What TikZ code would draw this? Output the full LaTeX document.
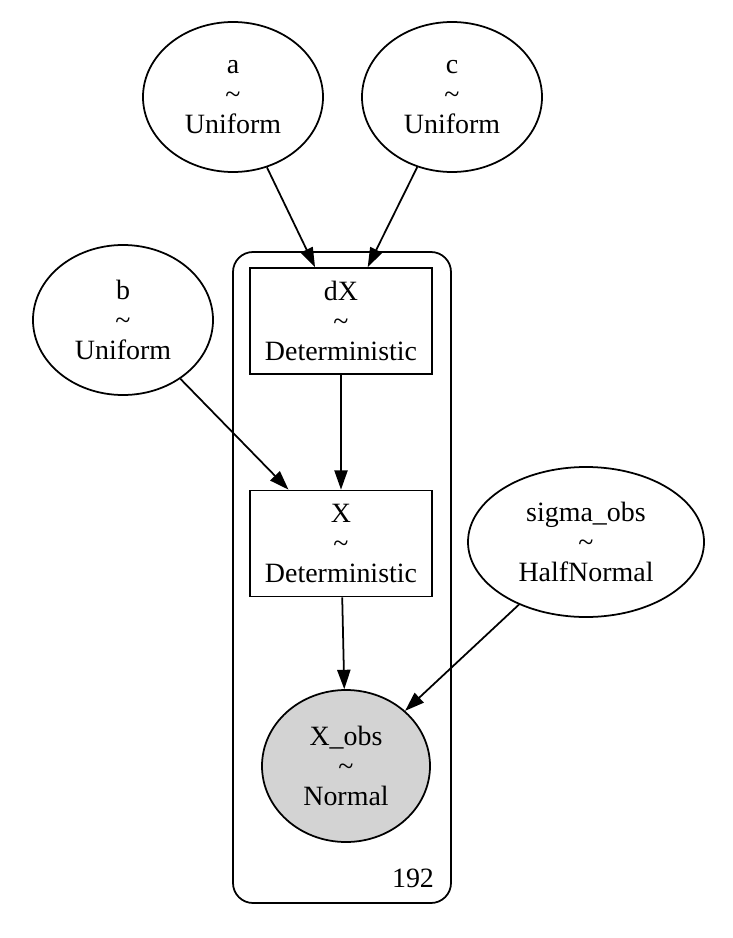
\documentclass[tikz,border=0pt]{standalone}
\usepackage{fontspec}
\setmainfont{Liberation Serif}
\usetikzlibrary{shapes.geometric,arrows.meta,positioning}
\definecolor{obs-fill}{HTML}{D3D3D3}

\begin{document}
\begin{tikzpicture}[
    x=0.2mm, y=-0.2mm,
    font=\fontsize{15.9}{17.2}\selectfont,
    >={Triangle[length=11pt,width=7.5pt]}
  ]

  % Styles for the model graph
  \tikzset{
    rv/.style={draw, ellipse, inner sep=0pt, minimum width=3.6cm, minimum height=3.0cm, align=center, line width=1pt},
    det/.style={draw, rectangle, inner sep=0pt, minimum width=3.64cm, minimum height=2.12cm, align=center, line width=1pt},
    obs/.style={rv, fill=obs-fill, minimum width=3.36cm, minimum height=3.04cm},
    plate/.style={draw, rounded corners=0.4cm, minimum width=4.36cm, minimum height=13.02cm, line width=1pt},
    link/.style={->, line width=1pt}
  }

  \useasboundingbox (0,0) rectangle (733,938);

  % Plate
  \node (plate) [plate] at (342,577.5) {};
  \node (n192) at (413,878) {192};

  % Free variables
  \node (a) [rv] at (233,97) {a\\\textasciitilde\\Uniform};
  \node (c) [rv] at (452,97) {c\\\textasciitilde\\Uniform};
  \node (b) [rv] at (123,320) {b\\\textasciitilde\\Uniform};
  \node (sigma) [rv, minimum width=4.72cm] at (586,542) {sigma\_obs\\\textasciitilde\\HalfNormal};

  % Inside the plate
  \node (dX) [det] at (341,321) {dX\\\textasciitilde\\Deterministic};
  \node (X) [det] at (341,543.5) {X\\\textasciitilde\\Deterministic};
  \node (Xobs) [obs] at (346,766) {X\_obs\\\textasciitilde\\Normal};

  % Edges
  \draw[link] (a) -- (dX);
  \draw[link] (c) -- (dX);
  \draw[link] (dX) -- (X);
  \draw[link] (b) -- (X);
  \draw[link] (X) -- (Xobs);
  \draw[link] (sigma) -- (Xobs);

\end{tikzpicture}
\end{document}
